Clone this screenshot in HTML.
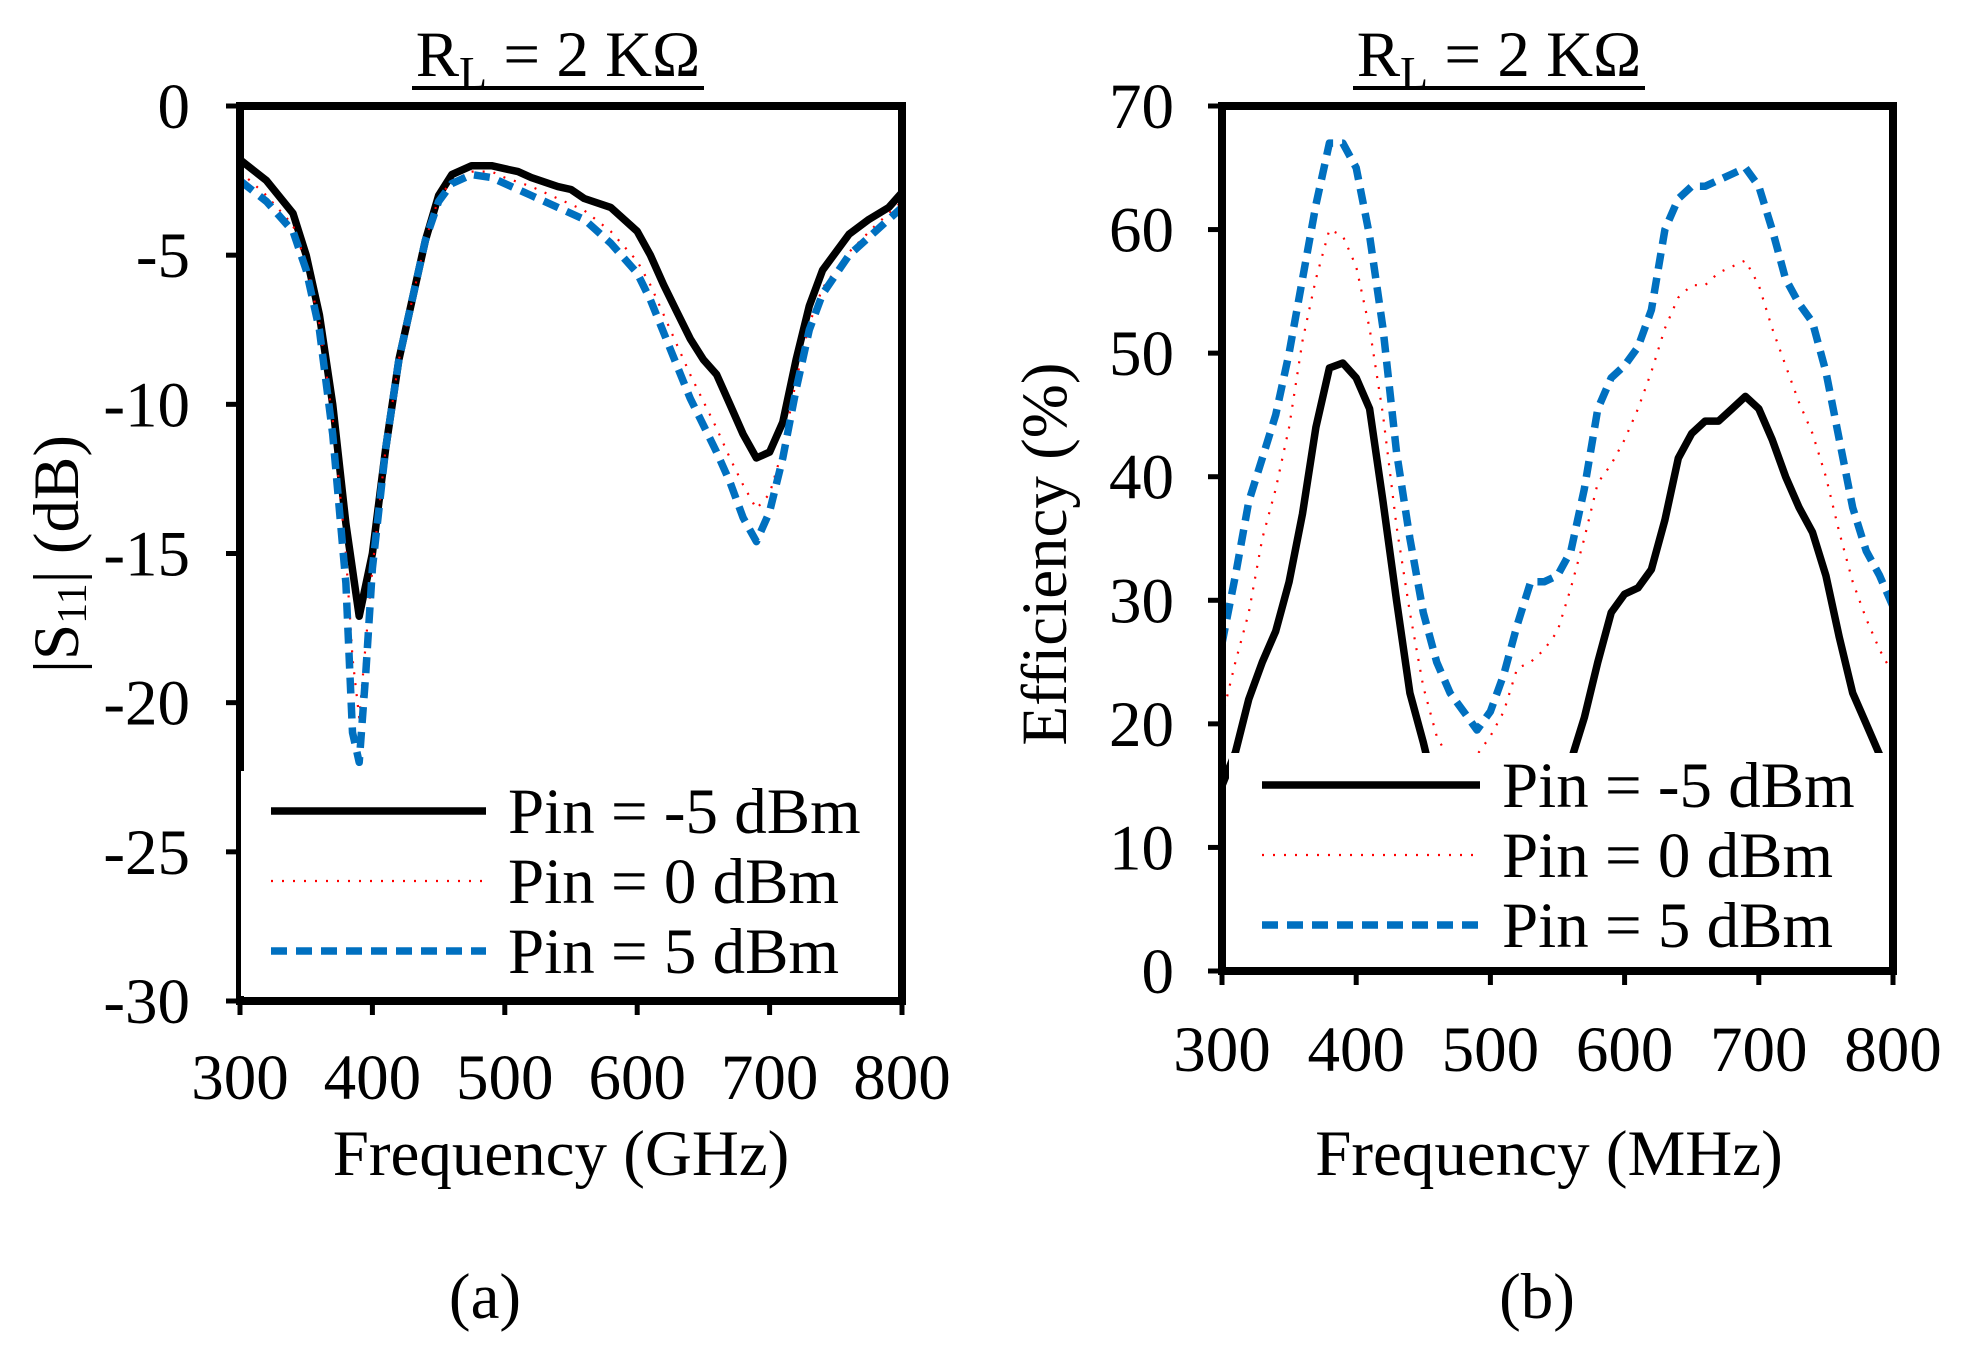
<!DOCTYPE html>
<html><head><meta charset="utf-8"><style>
html,body{margin:0;padding:0;background:#fff}
svg{display:block}
text{font-family:"Liberation Serif",serif;fill:#000}
</style></head><body>
<svg id="fig" width="1965" height="1354" viewBox="0 0 1965 1354"></svg>
<script>
const freqA=[300,320,340,350,360,370,380,390,400,410,420,440,450,460,475,490,500,510,520,540,550,560,580,600,610,620,630,640,650,660,670,680,690,700,710,720,730,740,760,775,790,800];
const s11Neg5=[-1.8,-2.5,-3.6,-5,-7,-10,-14,-17.1,-15,-11.5,-8.5,-4.5,-3,-2.3,-2,-2,-2.1,-2.2,-2.4,-2.7,-2.8,-3.1,-3.4,-4.2,-5,-6,-6.9,-7.8,-8.5,-9,-10,-11,-11.8,-11.6,-10.6,-8.5,-6.7,-5.5,-4.3,-3.8,-3.4,-2.9];
const freqB=[300,320,340,350,360,370,380,385,390,395,400,410,420,440,450,460,475,490,500,520,540,560,580,600,610,620,630,640,650,660,670,680,690,700,710,720,730,740,760,780,800];
const s11P0=[-2.2,-3,-4,-5.3,-7.3,-10.5,-15,-18.5,-20.5,-18,-15.5,-11.5,-8.5,-4.5,-3.1,-2.5,-2.2,-2.2,-2.4,-2.7,-3.1,-3.5,-4.2,-5.2,-6,-7,-8,-9,-9.9,-10.8,-11.8,-12.7,-13.5,-13,-11.5,-9.2,-7.3,-6.1,-4.9,-4,-3.2];
const s11P5=[-2.5,-3.2,-4.2,-5.5,-7.5,-11,-16,-21,-22,-19,-15.5,-11.5,-8.5,-4.5,-3.2,-2.6,-2.3,-2.4,-2.6,-3,-3.4,-3.8,-4.6,-5.6,-6.5,-7.6,-8.7,-9.8,-10.7,-11.6,-12.6,-13.8,-14.6,-13.6,-11.8,-9.5,-7.5,-6.3,-5,-4.2,-3.4];
const freqE=[300,310,320,330,340,350,360,370,380,390,400,410,420,430,440,450,460,470,480,490,500,510,520,530,540,550,560,570,580,590,600,610,620,630,640,650,660,670,680,690,700,710,720,730,740,750,760,770,780,790,800];
const effNeg5=[15,17.7,22,25,27.5,31.5,37,44,48.8,49.2,48,45.5,38,30,22.5,18.5,14,10,8,7,7,8,9,10,12,14,17,20.5,25,29,30.5,31,32.5,36.5,41.5,43.5,44.5,44.5,45.5,46.5,45.5,43,40,37.5,35.5,32,27,22.5,20,17.5,15];
const effP0=[20.5,25,29,35,39,44,51,56,60,59.5,57,52,45,36,29,23,19,17,16.5,17.5,19,21,24.5,25,26,27.5,31,35,39.5,41,43,45.5,48.5,52,54.5,55.5,55.5,56.5,57,57.5,55.5,52,49,46,43.5,40,35.5,31.5,28.5,26,24];
const effP5=[26.5,32,38,41.5,45,50,56,62,67,67,65,59.5,52,42,35,29,25,22.5,21,19.5,21,24,28,31.5,31.5,32,34,39,45.5,48,49,50.5,53.5,60,62.5,63.5,63.5,64,64.5,65,63.5,60,56,54,52.5,48.5,43,37.5,34,32,29.5];
const ticksA=[0,-5,-10,-15,-20,-25,-30];
const ticksB=[0,10,20,30,40,50,60,70];
const xTicks=[300,400,500,600,700,800];
const legendLabels=["Pin = -5 dBm","Pin = 0 dBm","Pin = 5 dBm"];

const NS="http://www.w3.org/2000/svg";
const svg=document.getElementById('fig');
function mk(tag,attrs,parent){const e=document.createElementNS(NS,tag);for(const k in attrs)e.setAttribute(k,attrs[k]);(parent||svg).appendChild(e);return e;}
function txt(s,attrs,parent){const e=mk('text',attrs,parent);e.textContent=s;return e;}

const styles=[
 {stroke:"#000",w:7.5,dash:""},
 {stroke:"#ff0000",w:2.2,dash:"2 9"},
 {stroke:"#0070c0",w:7.5,dash:"16 9"}
];
const FS=65;

function panel(cfg){
  const g=mk('g',{});
  
  
  const X=f=>cfg.x0+(f-300)/500*(cfg.x1-cfg.x0);
  const Y=v=>cfg.yTop+(cfg.ymax-v)/(cfg.ymax-cfg.ymin)*(cfg.yBot-cfg.yTop);
  const clipId=cfg.name+'-clip';
  const defs=mk('defs',{},g);
  const cp=mk('clipPath',{id:clipId},defs);
  mk('rect',{x:cfg.x0,y:cfg.yTop,width:cfg.x1-cfg.x0,height:cfg.yBot-cfg.yTop},cp);
  cfg.series.forEach((s,i)=>{
    const st=styles[i];
    const d=s.f.map((f,j)=>(j?'L':'M')+X(f).toFixed(1)+' '+Y(s.v[j]).toFixed(1)).join(' ');
    const p=mk('path',{d:d,fill:'none',stroke:st.stroke,'stroke-width':st.w,'stroke-dasharray':st.dash,'stroke-linejoin':'round','clip-path':'url(#'+clipId+')'},g);
    
    
  });
  const lg=mk('g',{},g);
  
  
  mk('rect',{x:cfg.lx,y:cfg.ly,width:cfg.lw,height:cfg.lh,fill:'#fff'},lg);
  legendLabels.forEach((l,i)=>{
    const st=styles[i];const y=cfg.ly+cfg.lrow0+i*cfg.lgap;
    const ln=mk('line',{x1:cfg.lx1,x2:cfg.lx2,y1:y,y2:y,stroke:st.stroke,'stroke-width':st.w,'stroke-dasharray':st.dash},lg);
    
    
    const t=txt(l,{x:cfg.lx2+22,y:y+22,'font-size':FS},lg);
    
    
  });
  const fr=mk('rect',{x:cfg.x0,y:cfg.yTop,width:cfg.x1-cfg.x0,height:cfg.yBot-cfg.yTop,fill:'none',stroke:'#000','stroke-width':8},g);
  
  
  if(cfg.cover){mk('rect',{x:cfg.x0+1,y:cfg.ly,width:6,height:cfg.lh-8,fill:'#fff'},g);}
  cfg.yt.forEach(v=>{
    mk('line',{x1:cfg.x0-14,x2:cfg.x0,y1:Y(v),y2:Y(v),stroke:'#000','stroke-width':5},g);
    const t=txt(String(v),{x:cfg.x0-cfg.ylabOff,y:Y(v)+22,'font-size':FS,'text-anchor':'end'},g);
    
    
  });
  xTicks.forEach(f=>{
    mk('line',{x1:X(f),x2:X(f),y1:cfg.yBot,y2:cfg.yBot+14,stroke:'#000','stroke-width':5},g);
    const t=txt(String(f),{x:X(f),y:cfg.yBot+cfg.xlabOff,'font-size':FS,'text-anchor':'middle'},g);
    
    
  });
  const xt=txt(cfg.xTitle,{x:cfg.xtc,y:1175,'font-size':FS,'text-anchor':'middle'},g);
  
  
  const yt=txt('',{x:0,y:0,'font-size':FS,'text-anchor':'middle',transform:'translate('+cfg.ytx+',554) rotate(-90)'},g);
  
  
  cfg.yTitle(yt);
  const tt=txt('',{x:cfg.tc,y:76,'font-size':FS,'text-anchor':'middle'},g);
  
  
  const a=document.createElementNS(NS,'tspan');a.textContent='R';tt.appendChild(a);
  const b=document.createElementNS(NS,'tspan');b.textContent='L';b.setAttribute('font-size','46');b.setAttribute('dy','12');tt.appendChild(b);
  const c=document.createElementNS(NS,'tspan');c.textContent=' = 2 KΩ';c.setAttribute('dy','-12');tt.appendChild(c);
  mk('line',{x1:cfg.tc-146,x2:cfg.tc+146,y1:88,y2:88,stroke:'#000','stroke-width':4},g);
  const cap=txt(cfg.cap,{x:cfg.capx,y:1318,'font-size':FS,'text-anchor':'middle'},g);
  
  
}

panel({name:'s11-chart',x0:240,x1:902,yTop:106,yBot:1001,ymin:-30,ymax:0,yt:ticksA,ylabOff:50,xlabOff:98,
  series:[{f:freqA,v:s11Neg5},{f:freqB,v:s11P0},{f:freqB,v:s11P5}],
  lx:242,ly:771,lw:640,lh:233,lx1:271,lx2:486,lrow0:40,lgap:70,cover:true,
  xTitle:'Frequency (GHz)',xtc:561,ytx:78,tc:558,cap:'(a)',capx:485,
  yTitle:t=>{const a=document.createElementNS(NS,'tspan');a.textContent='|S';t.appendChild(a);
    const b=document.createElementNS(NS,'tspan');b.textContent='11';b.setAttribute('font-size','42');b.setAttribute('dy','8');t.appendChild(b);
    const c=document.createElementNS(NS,'tspan');c.textContent='| (dB)';c.setAttribute('dy','-8');t.appendChild(c);}
});
panel({name:'efficiency-chart',x0:1222,x1:1893,yTop:106,yBot:971,ymin:0,ymax:70,yt:ticksB,ylabOff:48,xlabOff:100,
  series:[{f:freqE,v:effNeg5},{f:freqE,v:effP0},{f:freqE,v:effP5}],
  lx:1229,ly:753,lw:660,lh:214,lx1:1262,lx2:1480,lrow0:32,lgap:70,cover:false,
  xTitle:'Frequency (MHz)',xtc:1549,ytx:1066,tc:1499,cap:'(b)',capx:1537,
  yTitle:t=>{t.textContent='Efficiency (%)';}
});
</script>
</body></html>
